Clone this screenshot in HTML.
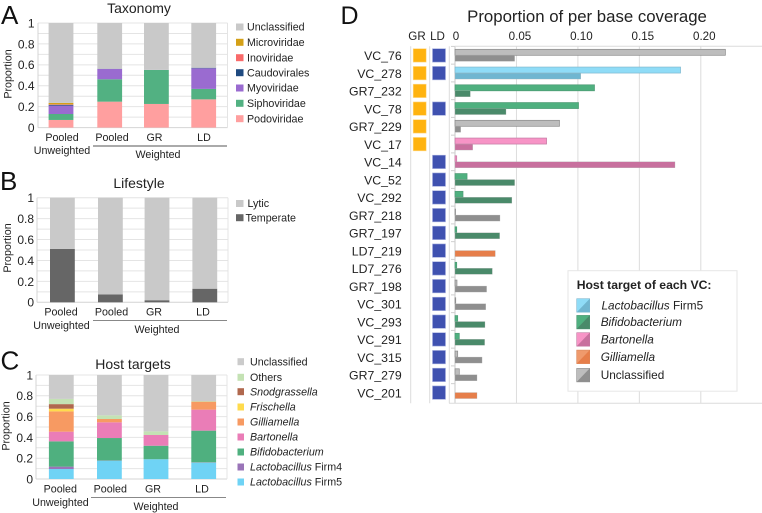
<!DOCTYPE html>
<html>
<head>
<meta charset="utf-8">
<style>
html,body{margin:0;padding:0;background:#fff}
svg{display:block;font-family:"Liberation Sans",Arial,sans-serif;fill:#222}
</style>
</head>
<body>
<svg id="fig" width="762" height="513" viewBox="0 0 762 513" xmlns="http://www.w3.org/2000/svg"></svg>
<script>
/* ---------- Data: panels A, B, C ---------- */
var stackCategories = ["Pooled", "Pooled", "GR", "LD"];
var yTicks = [0, 0.2, 0.4, 0.6, 0.8, 1];

var taxonomyNames = ["Podoviridae", "Siphoviridae", "Myoviridae", "Caudovirales", "Inoviridae", "Microviridae", "Unclassified"];
var taxonomyColors = ["#ff9f9f", "#52b182", "#9a6bd0", "#1f4a80", "#f96a6a", "#d4a017", "#c9c9c9"];
var podoviridae = [0.073, 0.248, 0.226, 0.27];
var siphoviridae = [0.057, 0.214, 0.325, 0.1];
var myoviridae = [0.08, 0.098, 0.001, 0.197];
var caudovirales = [0.008, 0.002, 0, 0.005];
var inoviridae = [0.004, 0, 0, 0];
var microviridae = [0.014, 0, 0, 0];
var taxonomyUnclassified = [0.764, 0.438, 0.448, 0.428];

var lifestyleNames = ["Temperate", "Lytic"];
var lifestyleColors = ["#666666", "#c9c9c9"];
var temperate = [0.51, 0.075, 0.02, 0.13];
var lytic = [0.49, 0.925, 0.98, 0.87];

var hostNames = ["Lactobacillus Firm5", "Lactobacillus Firm4", "Bifidobacterium", "Bartonella", "Gilliamella", "Frischella", "Snodgrassella", "Others", "Unclassified"];
var hostColors = ["#6fd3f5", "#9a74b8", "#4fb07f", "#ea7db7", "#f79a62", "#ffdb4d", "#b0684e", "#c4e2b4", "#cbcbcb"];
var firm5 = [0.096, 0.176, 0.19, 0.157];
var firm4 = [0.023, 0.002, 0, 0.003];
var bifidobacterium = [0.243, 0.216, 0.13, 0.305];
var bartonella = [0.093, 0.151, 0.103, 0.202];
var gilliamella = [0.195, 0.032, 0, 0.077];
var frischella = [0.026, 0, 0, 0];
var snodgrassella = [0.044, 0, 0, 0];
var others = [0.05, 0.035, 0.035, 0.006];
var hostUnclassified = [0.23, 0.388, 0.542, 0.25];

/* ---------- Data: panel D ---------- */
var vcNames = ["VC_76","VC_278","GR7_232","VC_78","GR7_229","VC_17","VC_14","VC_52","VC_292","GR7_218","GR7_197","LD7_219","LD7_276","GR7_198","VC_301","VC_293","VC_291","VC_315","GR7_279","VC_201"];
var grCoverage = [0.22, 0.1835, 0.1135, 0.1005, 0.085, 0.0745, 0.0014, 0.0098, 0.0065, 0.0004, 0.0014, 0, 0.0014, 0.0016, 0.0006, 0.0022, 0.0035, 0.0022, 0.0035, 0];
var ldCoverage = [0.0485, 0.1024, 0.0125, 0.0415, 0.0046, 0.0144, 0.179, 0.0485, 0.0463, 0.0366, 0.0363, 0.0328, 0.0304, 0.0257, 0.025, 0.0244, 0.0241, 0.022, 0.0179, 0.0179];
var vcHosts = ["U","L","B","B","U","P","P","B","B","U","B","G","B","U","U","B","B","U","U","G"];
var inGR = [1,1,1,1,1,1,0,0,0,0,0,0,0,0,0,0,0,0,0,0];
var inLD = [1,1,0,1,0,0,1,1,1,1,1,1,1,1,1,1,1,1,1,1];
var coverageTicks = [0, 0.05, 0.1, 0.15, 0.2];
var coverageTickLabels = ["0", "0.05", "0.10", "0.15", "0.20"];

var svg = document.getElementById('fig');
var NS = 'http://www.w3.org/2000/svg';

function shape(tag, props, name) {
  var el = document.createElementNS(NS, tag);
  for (var k in props) el.setAttribute(k, props[k]);
  
  
  svg.appendChild(el);
  return el;
}
function label(x, y, str, size, anchor, name, extra) {
  var el = document.createElementNS(NS, 'text');
  el.setAttribute('x', x);
  el.setAttribute('y', y);
  el.setAttribute('font-size', size);
  el.setAttribute('text-anchor', anchor || 'start');
  if (extra) for (var k in extra) el.setAttribute(k, extra[k]);
  el.textContent = str;
  
  
  svg.appendChild(el);
  return el;
}
function slug(s) { return s.toLowerCase().replace(/[^a-z0-9]+/g, '-'); }

function stackedPanel(cfg) {
  var y = function (v) { return cfg.y0 + (cfg.y1 - cfg.y0) * v; };
  var i, j;
  for (i = 1; i <= 10; i++) {
    shape('line', {x1: cfg.left, x2: cfg.right, y1: y(i / 10), y2: y(i / 10), stroke: '#e4e4e4', 'stroke-width': 1}, cfg.id + '-gridline');
  }
  shape('line', {x1: cfg.left, x2: cfg.right, y1: cfg.y0, y2: cfg.y0, stroke: '#d4d4d4', 'stroke-width': 1}, cfg.id + '-x-axis');
  shape('line', {x1: cfg.left, x2: cfg.left, y1: cfg.y1, y2: cfg.y0, stroke: '#d4d4d4', 'stroke-width': 1}, cfg.id + '-y-axis');
  shape('line', {x1: cfg.right, x2: cfg.right, y1: cfg.y1, y2: cfg.y0, stroke: '#e4e4e4', 'stroke-width': 1}, cfg.id + '-right-border');
  for (i = 0; i < cfg.centers.length; i++) {
    var acc = 0;
    for (j = 0; j < cfg.series.length; j++) {
      var v = cfg.series[j][i];
      if (v > 0) {
        shape('rect', {x: cfg.centers[i] - 12.4, y: y(acc + v), width: 24.8, height: y(acc) - y(acc + v), fill: cfg.colors[j]}, cfg.id + '-bar-' + slug(cfg.names[j]));
      }
      acc += v;
    }
  }
  yTicks.forEach(function (t) {
    label(cfg.tickX, y(t) + 4.4, String(t), 12, 'end', cfg.id + '-y-tick');
  });
  label(0, 0, 'Proportion', 10.7, 'middle', cfg.id + '-y-axis-title', {transform: 'translate(' + cfg.titleX + ',' + cfg.titleY + ') rotate(-90)'});
  stackCategories.forEach(function (c, k) {
    label(cfg.labelX[k], cfg.labelY, c, 10.7, 'middle', cfg.id + '-x-label');
  });
  label(cfg.unwX, cfg.labelY + 13.2, 'Unweighted', 10.7, 'middle', cfg.id + '-unweighted-label');
  shape('line', {x1: cfg.ruleX[0], x2: cfg.ruleX[1], y1: cfg.labelY + 5, y2: cfg.labelY + 5, stroke: cfg.ruleColor, 'stroke-width': 0.9}, cfg.id + '-weighted-rule');
  label(cfg.weightedX, cfg.labelY + 17.2, 'Weighted', 10.7, 'middle', cfg.id + '-weighted-label');
}

stackedPanel({id: 'taxonomy', y0: 127.6, y1: 23, left: 38, right: 227.5, tickX: 34.5, titleX: 11.3, titleY: 74,
  centers: [61, 109.7, 156.4, 203.7], labelX: [62, 112, 154.5, 204], labelY: 141, unwX: 62, ruleX: [93, 227], ruleColor: '#555', weightedX: 158,
  series: [podoviridae, siphoviridae, myoviridae, caudovirales, inoviridae, microviridae, taxonomyUnclassified], colors: taxonomyColors, names: taxonomyNames});
stackedPanel({id: 'lifestyle', y0: 302.3, y1: 197.7, left: 37, right: 228, tickX: 34, titleX: 10.8, titleY: 248,
  centers: [62.4, 110.4, 157, 204.8], labelX: [61, 111.5, 154, 203], labelY: 315.6, unwX: 61.5, ruleX: [93, 227], ruleColor: '#777', weightedX: 157,
  series: [temperate, lytic], colors: lifestyleColors, names: lifestyleNames});
stackedPanel({id: 'host-targets', y0: 479, y1: 375, left: 36, right: 227, tickX: 33, titleX: 9.3, titleY: 426,
  centers: [61.3, 109.4, 156, 203.7], labelX: [60.3, 110.3, 153, 202], labelY: 492.6, unwX: 60.5, ruleX: [91, 226], ruleColor: '#777', weightedX: 156,
  series: [firm5, firm4, bifidobacterium, bartonella, gilliamella, frischella, snodgrassella, others, hostUnclassified], colors: hostColors, names: hostNames});

/* Titles and panel letters */
label(139, 13, 'Taxonomy', 14, 'middle', 'taxonomy-title');
label(139, 188, 'Lifestyle', 14, 'middle', 'lifestyle-title');
label(133, 369, 'Host targets', 14, 'middle', 'host-targets-title');
label(1, 24, 'A', 26, 'start', 'panel-letter-a', {fill: '#111'});
label(0, 190, 'B', 26, 'start', 'panel-letter-b', {fill: '#111'});
label(0.5, 369.5, 'C', 26, 'start', 'panel-letter-c', {fill: '#111'});
label(340.5, 24, 'D', 25, 'start', 'panel-letter-d', {fill: '#111'});

/* Legends A, B, C */
var taxLegendY = [118.7, 103.3, 88, 72.7, 57.7, 42.3, 27];
taxonomyNames.forEach(function (n, i) {
  shape('rect', {x: 236, y: taxLegendY[i] - 3.5, width: 7.5, height: 7, fill: taxonomyColors[i]}, 'taxonomy-legend-swatch');
  label(247, taxLegendY[i] + 3.7, n, 10.7, 'start', 'taxonomy-legend-entry');
});
shape('rect', {x: 236, y: 200, width: 7.5, height: 7, fill: lifestyleColors[1]}, 'lifestyle-legend-swatch');
label(247.5, 207.2, 'Lytic', 10.7, 'start', 'lifestyle-legend-entry');
shape('rect', {x: 236, y: 214.2, width: 7.5, height: 7, fill: lifestyleColors[0]}, 'lifestyle-legend-swatch');
label(245.5, 221.5, 'Temperate', 10.7, 'start', 'lifestyle-legend-entry');

var hostLegendY = [482, 467, 452, 437, 422, 407, 391.7, 377.3, 361.7];
hostNames.forEach(function (n, i) {
  shape('rect', {x: 237.5, y: hostLegendY[i] - 3.5, width: 6.5, height: 7, fill: hostColors[i]}, 'host-legend-swatch');
  var el = label(250, hostLegendY[i] + 3.7, '', 10.7, 'start', 'host-legend-entry');
  var parts = n.split(' ');
  var italic = !(n === 'Others' || n === 'Unclassified');
  var ts = document.createElementNS(NS, 'tspan');
  ts.textContent = parts[0];
  if (italic) ts.setAttribute('font-style', 'italic');
  el.appendChild(ts);
  if (parts[1]) {
    var ts2 = document.createElementNS(NS, 'tspan');
    ts2.textContent = ' ' + parts[1];
    el.appendChild(ts2);
  }
});

/* Panel D */
var covX = function (v) { return 455 + v * 1229; };
var rowY = function (i) { return 55.3 + i * 17.75; };
var hostFill = {L: '#8fdcf7', B: '#4fb07f', P: '#f794c6', G: '#ef9a6c', U: '#bdbdbd'};
var hostLow = {L: '#70b6d0', B: '#4a8a6a', P: '#c8709e', G: '#e67e4a', U: '#8f8f8f'};
var hostEdge = {L: '#7fb8cf', B: '#4f9a75', P: '#c27aa2', G: '#d98456', U: '#8a8a8a'};

label(587, 22, 'Proportion of per base coverage', 16.8, 'middle', 'coverage-title');
coverageTicks.forEach(function (t, i) {
  shape('line', {x1: covX(t), x2: covX(t), y1: 46.3, y2: 403.3, stroke: i === 0 ? '#c8c8c8' : '#dcdcdc', 'stroke-width': 1}, 'coverage-gridline');
  label(covX(t) + (i === 0 ? 1 : 3.5), 40, coverageTickLabels[i], 11.6, 'middle', 'coverage-x-tick');
});
shape('line', {x1: 455, x2: 762, y1: 46.3, y2: 46.3, stroke: '#dcdcdc', 'stroke-width': 1}, 'coverage-top-border');
shape('line', {x1: 449, x2: 762, y1: 403.3, y2: 403.3, stroke: '#dcdcdc', 'stroke-width': 1}, 'coverage-bottom-border');
[410.7, 429.7, 449.3].forEach(function (x) {
  shape('line', {x1: x, x2: x, y1: 46.3, y2: 403.3, stroke: '#dcdcdc', 'stroke-width': 1}, 'membership-column-line');
});
label(417, 40, 'GR', 11.6, 'middle', 'gr-column-label');
label(437.5, 40, 'LD', 11.6, 'middle', 'ld-column-label');

vcNames.forEach(function (n, i) {
  var cy = rowY(i), h = vcHosts[i];
  label(401.7, cy + 4.9, n, 12.3, 'end', 'vc-label');
  shape('line', {x1: 451, x2: 455, y1: cy - 8.9, y2: cy - 8.9, stroke: '#cfcfcf', 'stroke-width': 1}, 'coverage-y-tick');
  if (inGR[i]) {
    shape('rect', {x: 413.2, y: cy - 6.6, width: 13, height: 13.4, fill: '#ffb30f', stroke: '#ffd98a', 'stroke-width': 0.6}, 'gr-presence-square');
  }
  if (inLD[i]) {
    shape('rect', {x: 432.5, y: cy - 6.6, width: 13, height: 13.4, fill: '#3f51b0', stroke: '#a5aede', 'stroke-width': 0.6}, 'ld-presence-square');
  }
  if (grCoverage[i] > 0) {
    shape('rect', {x: covX(0), y: cy - 6, width: covX(grCoverage[i]) - covX(0), height: 6, fill: hostFill[h], stroke: hostEdge[h], 'stroke-width': 0.7}, 'gr-coverage-bar');
  }
  shape('rect', {x: covX(0), y: cy, width: covX(ldCoverage[i]) - covX(0), height: 6, fill: hostLow[h], stroke: '#b5b5b5', 'stroke-width': 0.3}, 'ld-coverage-bar');
});

/* Panel D legend */
shape('rect', {x: 568, y: 270.7, width: 169, height: 120.5, fill: '#fff', stroke: '#e6e6e6', 'stroke-width': 1}, 'host-target-legend-box');
label(576.7, 289, 'Host target of each VC:', 12.2, 'start', 'host-target-legend-title', {'font-weight': 'bold'});
var legendHosts = ['L', 'B', 'P', 'G', 'U'];
var legendHostNames = ['Lactobacillus', 'Bifidobacterium', 'Bartonella', 'Gilliamella', 'Unclassified'];
var legendHostY = [305.3, 322, 339.3, 356.7, 375];
legendHosts.forEach(function (h, i) {
  var y = legendHostY[i] - 6.6;
  shape('rect', {x: 576.7, y: y, width: 13, height: 13.5, fill: hostFill[h], stroke: hostEdge[h], 'stroke-width': 0.6}, 'host-target-swatch-light');
  shape('polygon', {points: '589.7,' + y + ' 589.7,' + (y + 13.5) + ' 576.7,' + (y + 13.5), fill: hostLow[h]}, 'host-target-swatch-dark');
  var x = i === 0 ? 601.5 : 600.7;
  var el = label(x, legendHostY[i] + 4.2, legendHostNames[i], 11.8, 'start', 'host-target-legend-entry', h === 'U' ? {} : {'font-style': 'italic'});
  if (i === 0) {
    var plain = document.createElementNS(NS, 'tspan');
    plain.setAttribute('font-style', 'normal');
    plain.textContent = ' Firm5';
    el.appendChild(plain);
  }
});
</script>
</body>
</html>
